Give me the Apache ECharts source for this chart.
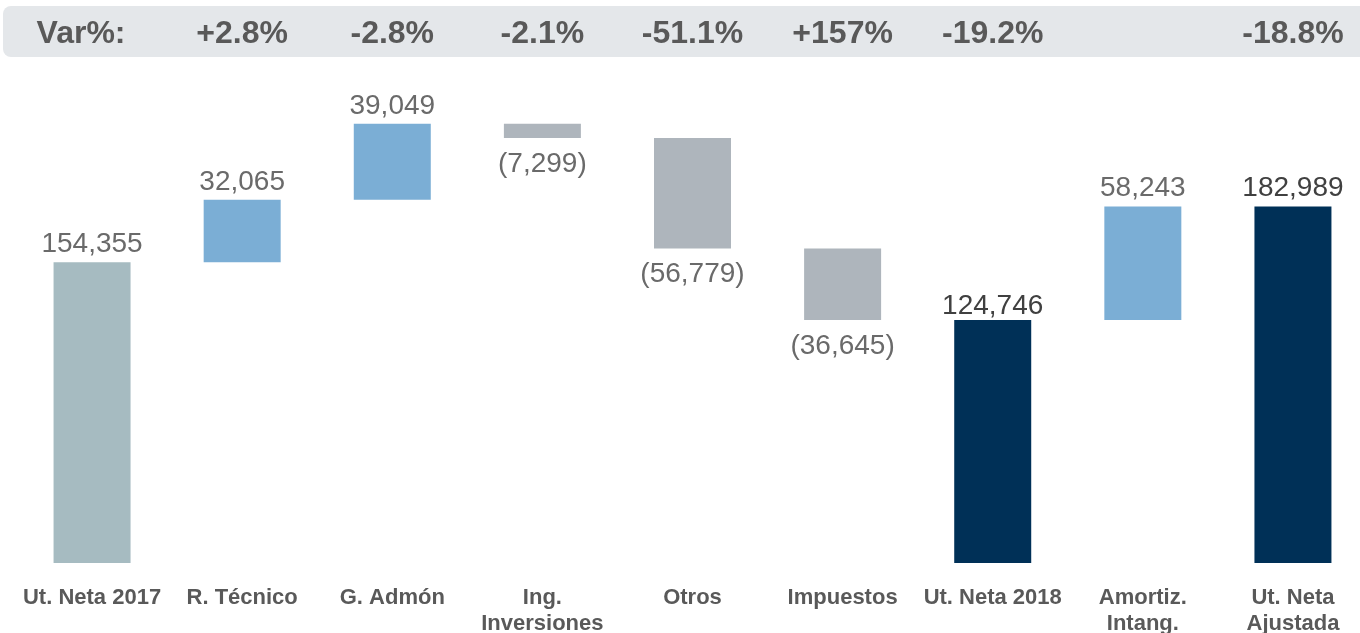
<!DOCTYPE html>
<html>
<head>
<meta charset="utf-8">
<script src="https://cdn.jsdelivr.net/npm/echarts@6/dist/echarts.min.js"></script>
<style>
  html, body { margin: 0; padding: 0; background: #fff; }
  #chart { width: 1360px; height: 633px; }
</style>
</head>
<body>
<div id="chart"></div>
<script>
const categories = ["Ut. Neta 2017", "R. Técnico", "G. Admón", "Ing.\nInversiones", "Otros",
  "Impuestos", "Ut. Neta 2018", "Amortiz.\nIntang.", "Ut. Neta\nAjustada"];
const changes = [154355, 32065, 39049, -7299, -56779, -36645, 124746, 58243, 182989];
const isTotal = [true, false, false, false, false, false, true, false, true];
const varLabels = ["Var%:", "+2.8%", "-2.8%", "-2.1%", "-51.1%", "+157%", "-19.2%", "", "-18.8%"];

// running total for the invisible base
let running = 0;
const base = [];
const heights = [];
changes.forEach((v, i) => {
  if (isTotal[i]) {
    base.push(0);
    heights.push(v);
    running = v;
  } else if (v >= 0) {
    base.push(running);
    heights.push(v);
    running += v;
  } else {
    running += v;
    base.push(running);
    heights.push(-v);
  }
});

function barColor(i) {
  if (i === 0) return "#A6BBC1";
  if (isTotal[i]) return "#003057";
  return changes[i] >= 0 ? "#7BAED5" : "#AEB5BC";
}

function fmt(n) {
  return Math.abs(n).toLocaleString("en-US");
}

const chart = echarts.init(document.getElementById("chart"));
const font = "'Liberation Sans', Arial, sans-serif";

chart.setOption({
  animation: false,
  grid: { left: 17, width: 1351, top: 76, bottom: 70, outerBoundsMode: "none", containLabel: false },
  graphic: [{
    type: "rect",
    z: -10,
    shape: { x: 3, y: 6, width: 1400, height: 51, r: 8 },
    style: { fill: "#E4E7EA" }
  }],
  xAxis: [{
    type: "category",
    data: categories,
    axisLine: { show: false },
    axisTick: { show: false },
    axisLabel: {
      interval: 0,
      margin: 22,
      color: "#595959",
      fontFamily: font,
      fontWeight: "bold",
      fontSize: 22,
      lineHeight: 26
    }
  }, {
    type: "category",
    position: "top",
    data: varLabels,
    axisLine: { show: false },
    axisTick: { show: false },
    axisLabel: {
      interval: 0,
      margin: 26,
      color: "#595959",
      fontFamily: font,
      fontWeight: "bold",
      fontSize: 32,
      formatter: (v, i) => i === 0 ? "{first|" + v + "}" : v,
      rich: {
        first: {
          color: "#595959",
          fontFamily: font,
          fontWeight: "bold",
          fontSize: 32,
          padding: [0, 22, 0, 0]
        }
      }
    }
  }],
  yAxis: { type: "value", min: 0, max: 250000, show: false },
  series: [{
    type: "bar",
    stack: "w",
    barWidth: 77,
    itemStyle: { color: "transparent" },
    data: base,
    silent: true
  }, {
    type: "bar",
    stack: "w",
    barWidth: 77,
    data: heights.map((h, i) => ({
      value: h,
      itemStyle: { color: barColor(i) },
      label: {
        show: true,
        position: changes[i] < 0 ? "bottom" : "top",
        distance: changes[i] < 0 ? 12 : (i === 6 ? 0 : 4),
        formatter: changes[i] < 0 ? "(" + fmt(changes[i]) + ")" : fmt(changes[i]),
        color: isTotal[i] && i > 0 ? "#404040" : "#6A6A6A",
        fontFamily: font,
        fontSize: 28
      }
    }))
  }]
});
</script>
</body>
</html>
